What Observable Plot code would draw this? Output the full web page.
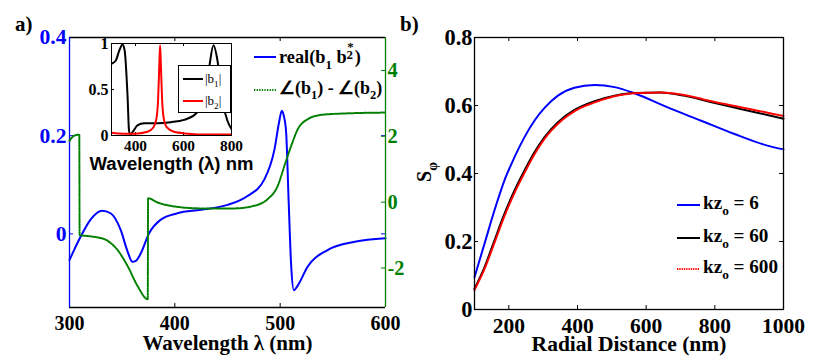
<!DOCTYPE html>
<html><head><meta charset="utf-8">
<script src="https://cdn.jsdelivr.net/npm/d3@7"></script>
<script src="https://cdn.jsdelivr.net/npm/@observablehq/plot@0.6"></script>
<style>
body{margin:0;background:#fff;}
#wrap{position:relative;width:830px;height:358px;overflow:hidden;font-family:"Liberation Serif",serif;font-weight:bold;background:#fff;color:#000;}
#wrap > svg{position:absolute;left:0;top:0;}
#wrap > svg text{font-family:"Liberation Serif",serif;font-weight:bold;}
#wrap > svg text.sans{font-family:"Liberation Sans",Arial,sans-serif;}
.t{position:absolute;white-space:nowrap;line-height:20px;}
.sb{font-size:70%;position:relative;top:0.42em;}
.lg{position:absolute;}
</style></head><body><div id="wrap"></div>
<script>
// ---------- data: panel a ----------
const wlA = [300,305,310.5,320,331,339,348.6,355,359.7,363,367.6,375.5,386.7,402.5,424.8,450,469,485,494.6,499,501.6,503.5,505.7,508,510.5,513,516.8,526,545,570.8,600];
const realB = [-0.053,-0.030,-0.006,0.029,0.047,0.042,0.008,-0.035,-0.057,-0.055,-0.040,0.001,0.029,0.042,0.049,0.059,0.077,0.111,0.172,0.228,0.251,0.240,0.206,0.070,-0.067,-0.115,-0.105,-0.067,-0.033,-0.016,-0.009];
const wlPhase = [300,304,309.3,309.6,320,332.7,345,355,364.5,374.3,374.6,383.5,399.4,424.8,456.5,475.5,488,497.8,504,510.5,516.8,526.3,539,567.6,600];
const phaseDiff = [1.86,2.01,2.05,-1.0,-1.04,-1.12,-1.43,-1.93,-2.54,-2.95,0.12,-0.01,-0.13,-0.19,-0.19,-0.11,0.09,0.50,1.10,1.71,2.22,2.52,2.65,2.70,2.72];
const xTicksA = [300,400,500,600];
const yTicksA = [0,0.2,0.4];
const yTicksA2 = [-2,0,2,4];
// ---------- data: inset ----------
const wlB1 = [300,318,332,346,355,367,373,378,387.5,408,436,492,547,602,651,686,707,725,741.5,762,783,800];
const absB1 = [0.78,0.815,0.92,0.99,0.92,0.42,0.054,0.01,0.036,0.11,0.134,0.134,0.145,0.17,0.236,0.38,0.74,0.98,0.815,0.38,0.16,0.07];
const wlB2 = [300,350,400,450,475,487,494,499,502.5,506,511,518,530,560,620,700,800];
const absB2 = [0.03,0.02,0.02,0.04,0.09,0.18,0.38,0.75,0.98,0.75,0.38,0.18,0.09,0.04,0.02,0.01,0.01];
const xTicksIn = [400,600,800];
const yTicksIn = [0,0.5,1];
// ---------- data: panel b ----------
const rBlue = [100,129,158,187,216.5,245.6,275,304,343,391,449.6,508,566,661,758,855,953,1000];
const sBlue = [0.095,0.193,0.291,0.379,0.448,0.507,0.556,0.593,0.629,0.652,0.660,0.654,0.636,0.595,0.556,0.517,0.482,0.471];
const rBlack = [100,129,158,187,216.5,245.6,275,304,343,391,449.6,508,566,642,710,787.5,875,1000];
const sKz60 = [0.061,0.124,0.203,0.281,0.350,0.409,0.463,0.507,0.551,0.587,0.613,0.629,0.637,0.638,0.629,0.610,0.590,0.561];
const sKz600 = [0.058,0.119,0.196,0.274,0.343,0.402,0.457,0.502,0.546,0.583,0.609,0.627,0.636,0.638,0.631,0.613,0.595,0.569];
const xTicksB = [200,400,600,800,1000];
const yTicksB = [0,0.2,0.4,0.6,0.8];

const BLUE = "#0000ff", GREEN = "#008000", RED = "#ff0000";
const SERIF = "Liberation Serif";
const sty = (size) => ({"background":"transparent", "overflow":"visible", "font-family":SERIF, "font-weight":"bold", "font-size":size});
const wrap = document.getElementById("wrap");

// ---------- panel a ----------
const A = {left:69, right:385, top:37, bottom:307}, WA = 430, H = 358;
const pwA = A.right - A.left, phA = A.bottom - A.top;
const commonA = {width:WA, height:H, marginLeft:A.left, marginRight:WA-A.right, marginTop:A.top, marginBottom:H-A.bottom};
const plotA1 = Plot.plot({
  ...commonA, style: sty("19px"),
  x: {domain:[300,600]},
  y: {domain:[-0.15,0.4]},
  marks: [
    Plot.ruleY([-0.15], {stroke:"black", strokeWidth:1.3}),
    Plot.ruleY([0.4], {stroke:"black", strokeWidth:1.3}),
    Plot.tickX(xTicksA.slice(1,-1), {x:d=>d, insetTop:phA-4, stroke:"black"}),
    Plot.tickX(xTicksA.slice(1,-1), {x:d=>d, insetBottom:phA-4, stroke:"black"}),
    Plot.tickY(yTicksA.slice(0,-1), {y:d=>d, insetRight:pwA-4, stroke:BLUE}),
    Plot.tickY(yTicksA.slice(0,-1), {y:d=>d, insetLeft:pwA-4, stroke:BLUE}),
    Plot.ruleX([300], {stroke:BLUE, strokeWidth:1.3}),
    Plot.line(realB, {x:wlA, y:realB, stroke:BLUE, strokeWidth:2, curve:"monotone-x"}),
    Plot.axisX({ticks:xTicksA, tickSize:0, tickPadding:8, tickFormat:String, label:null, fontSize:20}),
    Plot.axisY({ticks:yTicksA, tickSize:0, tickPadding:3, tickFormat:String, label:null, color:BLUE, fontSize:20}),
    Plot.text(["Wavelength λ (nm)"], {text:d=>d, frameAnchor:"bottom", dy:36, lineAnchor:"middle", fontSize:21})
  ]
});
const plotA2 = Plot.plot({
  ...commonA, style: sty("19px"),
  x: {domain:[300,600], axis:null},
  y: {domain:[-3.2,5]},
  marks: [
    Plot.ruleX([600], {stroke:GREEN, strokeWidth:1.3}),
    Plot.tickY(yTicksA2, {y:d=>d, insetLeft:pwA-4, stroke:GREEN}),
    Plot.line(phaseDiff, {x:wlPhase, y:phaseDiff, stroke:GREEN, strokeWidth:2, strokeDasharray:"1.3,1.3", curve:"monotone-x"}),
    Plot.axisY({anchor:"right", ticks:yTicksA2, tickSize:0, tickPadding:2, tickFormat:String, label:null, color:GREEN, fontSize:20})
  ]
});
// ---------- inset ----------
const I = {left:111, right:231, top:43, bottom:135}, WI = 260, HI = 180;
const pwI = I.right - I.left, phI = I.bottom - I.top;
const plotIn = Plot.plot({
  width:WI, height:HI, marginLeft:I.left, marginRight:WI-I.right, marginTop:I.top, marginBottom:HI-I.bottom,
  style: sty("15px"),
  x: {domain:[300,800]}, y: {domain:[0,1]},
  marks: [
    Plot.frame({fill:"white", stroke:"black"}),
    Plot.tickX([400,600], {x:d=>d, insetTop:phI-3, stroke:"black"}),
    Plot.tickX([400,600], {x:d=>d, insetBottom:phI-3, stroke:"black"}),
    Plot.tickY([0.5], {y:d=>d, insetRight:pwI-3, stroke:"black"}),
    Plot.tickY([0.5], {y:d=>d, insetLeft:pwI-3, stroke:"black"}),
    Plot.line(absB1, {x:wlB1, y:absB1, stroke:"black", strokeWidth:2, curve:"monotone-x", clip:true}),
    Plot.line(absB2, {x:wlB2, y:absB2, stroke:RED, strokeWidth:2, curve:"monotone-x", clip:true}),
    Plot.frame({stroke:"black"}),
    Plot.axisX({ticks:xTicksIn, tickSize:0, tickPadding:5, tickFormat:String, label:null, fontSize:16}),
    Plot.axisY({ticks:yTicksIn, tickSize:0, tickPadding:3, tickFormat:String, label:null, fontSize:16}),
    Plot.text(["Wavelength (λ) nm"], {text:d=>d, frameAnchor:"bottom", dy:29, lineAnchor:"middle", fontSize:18})
  ]
});
plotIn.querySelectorAll("text").forEach(t => { if (t.textContent.startsWith("Wavelength")) t.classList.add("sans"); });
// ---------- panel b ----------
const B = {left:474, right:783, top:37, bottom:309}, WB = 830;
const pwB = B.right - B.left, phB = B.bottom - B.top;
const plotB = Plot.plot({
  width:WB, height:H, marginLeft:B.left, marginRight:WB-B.right, marginTop:B.top, marginBottom:H-B.bottom,
  style: sty("20px"),
  x: {domain:[100,1000]}, y: {domain:[0,0.8]},
  marks: [
    Plot.tickX(xTicksB.slice(0,-1), {x:d=>d, insetTop:phB-4, stroke:"black"}),
    Plot.tickX(xTicksB.slice(0,-1), {x:d=>d, insetBottom:phB-4, stroke:"black"}),
    Plot.tickY(yTicksB.slice(1,-1), {y:d=>d, insetRight:pwB-4, stroke:"black"}),
    Plot.tickY(yTicksB.slice(1,-1), {y:d=>d, insetLeft:pwB-4, stroke:"black"}),
    Plot.line(sBlue, {x:rBlue, y:sBlue, stroke:BLUE, strokeWidth:2, curve:"monotone-x"}),
    Plot.line(sKz60, {x:rBlack, y:sKz60, stroke:"black", strokeWidth:2, curve:"monotone-x"}),
    Plot.line(sKz600, {x:rBlack, y:sKz600, stroke:RED, strokeWidth:2, strokeDasharray:"1.3,1", curve:"monotone-x"}),
    Plot.frame({stroke:"black", strokeWidth:1.3}),
    Plot.axisX({ticks:xTicksB, tickSize:0, tickPadding:8, tickFormat:String, label:null, fontSize:21}),
    Plot.axisY({ticks:yTicksB, tickSize:0, tickPadding:2, tickFormat:String, label:null, fontSize:21}),
    Plot.text(["Radial Distance (nm)"], {text:d=>d, frameAnchor:"bottom", dy:35, lineAnchor:"middle", fontSize:21.5})
  ]
});
wrap.append(plotA1, plotA2, plotIn, plotB);

// ---------- text & legends ----------
function addHTML(html){ wrap.insertAdjacentHTML("beforeend", html); return wrap.lastElementChild; }
function sample(x, y, w, color, dash){
  return `<svg class="lg" style="left:${x}px;top:${y-3}px" width="${w}" height="6"><line x1="0" x2="${w}" y1="3" y2="3" stroke="${color}" stroke-width="2" ${dash?`stroke-dasharray="${dash}"`:""}/></svg>`;
}
addHTML(`<div class="t" style="left:15px;top:14px;font-size:21px">a)</div>`);
addHTML(`<div class="t" style="left:400px;top:14px;font-size:21px">b)</div>`);
// panel a legend
addHTML(sample(254,57,22,BLUE));
const lgA1 = addHTML(`<div class="t" style="left:279px;top:45px;font-size:18px">real(b<span class="sb">1</span> b<span style="display:inline-block;position:relative;width:0.45em;height:1em;vertical-align:baseline"><span style="position:absolute;left:0;top:0.32em;font-size:70%;line-height:1">2</span><span style="position:absolute;left:0.05em;top:-0.3em;font-size:70%;line-height:1">*</span></span>)</div>`);
addHTML(sample(254,90,22,GREEN,"1.3,1.3"));
const lgA2 = addHTML(`<div class="t" style="left:279px;top:78px;font-size:17.5px">∠(b<span class="sb">1</span>) - ∠(b<span class="sb">2</span>)</div>`);
// inset legend
addHTML(`<div style="position:absolute;left:178px;top:65px;width:51px;height:46px;border:1px solid black;background:white"></div>`);
addHTML(sample(183,79,20,"black"));
addHTML(sample(183,101,20,RED));
addHTML(`<div class="t" style="left:205px;top:69px;font-size:13px;font-weight:normal;color:#000">|b<span class="sb">1</span>|</div>`);
addHTML(`<div class="t" style="left:205px;top:91px;font-size:13px;font-weight:normal;color:#000">|b<span class="sb">2</span>|</div>`);
// panel b legend
const kz = [["6",BLUE,null,205],["60","black",null,238],["600",RED,"1.3,1",269]];
const lgB = kz.map(([v,c,d,y]) => {
  addHTML(sample(677,y,23,c,d));
  return addHTML(`<div class="t" style="left:703px;top:${y-12}px;font-size:18px">kz<span class="sb">o</span> = ${v}</div>`);
});
// S_phi y label
addHTML(`<div class="t" style="left:425px;top:172px;font-size:20px;transform:translate(-50%,-50%) rotate(-90deg);transform-origin:center">S<span class="sb">φ</span></div>`);

// ---------- fit font sizes to the reference's measured text widths ----------
const clampF = (f, base) => Math.max(base*0.8, Math.min(base*1.25, f));
function fitSVGText(svg, str, target, wholeGroup){
  const t = [...svg.querySelectorAll("text")].find(e => e.textContent === str);
  if (!t) return;
  const w = t.getComputedTextLength();
  const fs = parseFloat(getComputedStyle(t).fontSize);
  if (!(w > 0 && fs > 0)) return;
  const nf = clampF(fs * target / w, fs);
  (wholeGroup ? t.parentNode : t).style.fontSize = nf + "px";
  if (wholeGroup) t.parentNode.querySelectorAll("text").forEach(e => e.style.fontSize = nf + "px");
}
function fitHTML(el, target){
  const w = el.getBoundingClientRect().width;
  const fs = parseFloat(getComputedStyle(el).fontSize);
  if (!(w > 0 && fs > 0)) return;
  el.style.fontSize = clampF(fs * target / w, fs) + "px";
}
try {
  fitSVGText(plotA1, "400", 30, true);
  fitSVGText(plotA1, "0.4", 27, true);
  fitSVGText(plotA1, "Wavelength λ (nm)", 170, false);
  fitSVGText(plotA2, "-2", 17, true);
  fitSVGText(plotIn, "400", 23, true);
  fitSVGText(plotIn, "Wavelength (λ) nm", 164, false);
  fitSVGText(plotB, "1000", 43, true);
  fitSVGText(plotB, "0.8", 28, true);
  fitSVGText(plotB, "Radial Distance (nm)", 195, false);
  fitHTML(lgA1, 82);
  fitHTML(lgA2, 104);
  const fB = (() => { const w = lgB[2].getBoundingClientRect().width, fs = parseFloat(getComputedStyle(lgB[2]).fontSize); return clampF(fs*75/w, fs); })();
  lgB.forEach(e => e.style.fontSize = fB + "px");
} catch (e) {}
</script>
</body></html>
